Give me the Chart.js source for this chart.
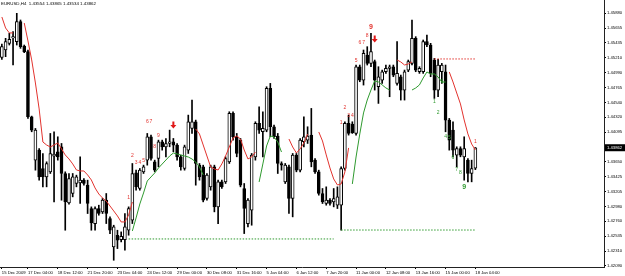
<!DOCTYPE html>
<html>
<head>
<meta charset="utf-8">
<script src="https://cdn.jsdelivr.net/npm/chart.js@4.4.1/dist/chart.umd.min.js"></script>
<style>
  html, body { margin: 0; padding: 0; background: #fff; }
  canvas { display: block; }
</style>
</head>
<body>
<canvas id="grafico" width="625" height="276"></canvas>
<script>
  // Símbolo e barras H4 (índice 0 = primeira barra visível)
  const symbol = 'EURUSD,H4';

  const openPrices = [
    1.45216, 1.45326, 1.45426, 1.45506, 1.45451, 1.45751, 1.45386, 1.45301, 1.44326, 1.43676,
    1.43826, 1.43551, 1.43426, 1.43501, 1.43736, 1.43801, 1.43876, 1.43476, 1.43036, 1.43176,
    1.43326, 1.43336, 1.43376, 1.43301, 1.42951, 1.42726, 1.42951, 1.42901, 1.43076, 1.42801,
    1.42376, 1.42551, 1.42486, 1.42486, 1.42626, 1.42776, 1.43486, 1.43251, 1.43501, 1.43676,
    1.44026, 1.43651, 1.43701, 1.43951, 1.43876, 1.43926, 1.43951, 1.43901, 1.43726, 1.43551,
    1.43826, 1.44151, 1.44251, 1.43601, 1.43576, 1.43101, 1.43276, 1.43576, 1.42976, 1.43351,
    1.43351, 1.43651, 1.44376, 1.44026, 1.43976, 1.43251, 1.42726, 1.42926, 1.43726, 1.44226,
    1.44101, 1.44126, 1.44751, 1.44176, 1.44036, 1.43626, 1.43351, 1.43576, 1.43101, 1.43751,
    1.43526, 1.43951, 1.43976, 1.44051, 1.43676, 1.43501, 1.43176, 1.43026, 1.43076, 1.43051,
    1.43001, 1.43001, 1.43551, 1.44226, 1.44216, 1.44076, 1.45076, 1.44876, 1.45251, 1.45126,
    1.45151, 1.44776, 1.44876, 1.45001, 1.45051, 1.45076, 1.44826, 1.44926, 1.44726, 1.45026,
    1.45126, 1.45501, 1.45001, 1.45001, 1.45451, 1.45401, 1.45176, 1.44726, 1.45001, 1.45001,
    1.44276, 1.44126, 1.43751, 1.43851, 1.43726, 1.43676, 1.43476, 1.43554
  ];
  const highPrices = [
    1.45416, 1.45501, 1.45576, 1.45601, 1.45876, 1.45776, 1.45401, 1.45326, 1.44336, 1.44151,
    1.43851, 1.43776, 1.43651, 1.44076, 1.44101, 1.44026, 1.43926, 1.43501, 1.43476, 1.43476,
    1.43451, 1.43726, 1.43401, 1.43376, 1.42976, 1.42976, 1.43001, 1.43101, 1.43176, 1.42826,
    1.42701, 1.42626, 1.42601, 1.42876, 1.42976, 1.43626, 1.43526, 1.43551, 1.43601, 1.44076,
    1.44051, 1.43676, 1.43976, 1.43976, 1.44001, 1.44126, 1.44001, 1.43926, 1.43751, 1.43901,
    1.44351, 1.44576, 1.44276, 1.43626, 1.43601, 1.43476, 1.43601, 1.43601, 1.43376, 1.43376,
    1.43726, 1.44401, 1.44401, 1.44076, 1.44001, 1.43326, 1.43101, 1.43776, 1.44251, 1.44476,
    1.44401, 1.44776, 1.44826, 1.44201, 1.44076, 1.43651, 1.43626, 1.43601, 1.43776, 1.43776,
    1.44001, 1.44326, 1.44176, 1.44451, 1.43701, 1.43526, 1.43251, 1.43276, 1.43101, 1.43251,
    1.43276, 1.43576, 1.44251, 1.44351, 1.44251, 1.45101, 1.45101, 1.45326, 1.45376, 1.45576,
    1.45176, 1.45076, 1.45026, 1.45101, 1.45101, 1.45101, 1.45451, 1.44951, 1.45026, 1.45176,
    1.45776, 1.45526, 1.45076, 1.45476, 1.45551, 1.45426, 1.45201, 1.45186, 1.45126, 1.45101,
    1.44301, 1.44251, 1.43876, 1.43876, 1.44026, 1.43701, 1.43676, 1.43865
  ];
  const lowPrices = [
    1.45186, 1.45226, 1.45401, 1.45101, 1.45401, 1.45351, 1.45286, 1.44301, 1.44101, 1.43526,
    1.43376, 1.43276, 1.43276, 1.43476, 1.43051, 1.43676, 1.43076, 1.42626, 1.43016, 1.43126,
    1.43276, 1.43026, 1.43301, 1.42876, 1.42626, 1.42626, 1.42851, 1.42876, 1.42726, 1.42576,
    1.42176, 1.42351, 1.42451, 1.42326, 1.42551, 1.42726, 1.43226, 1.43226, 1.43476, 1.43601,
    1.43676, 1.43501, 1.43576, 1.43826, 1.43726, 1.43876, 1.43801, 1.43676, 1.43526, 1.43526,
    1.43776, 1.44076, 1.43301, 1.43376, 1.43051, 1.43076, 1.43226, 1.42901, 1.42726, 1.43251,
    1.43326, 1.43626, 1.43976, 1.43726, 1.43276, 1.42576, 1.42676, 1.42701, 1.43676, 1.44076,
    1.43726, 1.44101, 1.44026, 1.44001, 1.43476, 1.43526, 1.43326, 1.42876, 1.42826, 1.43501,
    1.43501, 1.43876, 1.43926, 1.43576, 1.43476, 1.43151, 1.43026, 1.43001, 1.43001, 1.42976,
    1.42951, 1.42626, 1.43526, 1.44051, 1.44076, 1.44051, 1.44851, 1.44801, 1.45101, 1.45076,
    1.44726, 1.44526, 1.44826, 1.44976, 1.44626, 1.44926, 1.44801, 1.44576, 1.44576, 1.45001,
    1.45101, 1.45001, 1.44976, 1.44976, 1.45376, 1.44926, 1.44601, 1.44626, 1.44826, 1.44101,
    1.43826, 1.43726, 1.43576, 1.43726, 1.43376, 1.43351, 1.43351, 1.43534
  ];
  const closePrices = [
    1.45376, 1.45451, 1.45486, 1.45526, 1.45751, 1.45376, 1.45301, 1.44326, 1.44126, 1.44126,
    1.43426, 1.43426, 1.43626, 1.43776, 1.43766, 1.43726, 1.43476, 1.43051, 1.43401, 1.43426,
    1.43426, 1.43376, 1.43326, 1.43026, 1.42736, 1.42951, 1.42876, 1.43076, 1.42876, 1.42626,
    1.42676, 1.42476, 1.42536, 1.42676, 1.42951, 1.43476, 1.43276, 1.43526, 1.43576, 1.44026,
    1.43701, 1.43526, 1.43951, 1.43876, 1.43926, 1.43951, 1.43901, 1.43726, 1.43576, 1.43876,
    1.44251, 1.44251, 1.43626, 1.43426, 1.43076, 1.43451, 1.43576, 1.42976, 1.43351, 1.43276,
    1.43701, 1.44376, 1.44026, 1.43776, 1.43301, 1.42951, 1.43076, 1.43751, 1.44226, 1.44126,
    1.44151, 1.44751, 1.44176, 1.44026, 1.43626, 1.43601, 1.43601, 1.43101, 1.43751, 1.43526,
    1.43976, 1.44026, 1.44036, 1.43651, 1.43501, 1.43176, 1.43051, 1.43076, 1.43026, 1.43101,
    1.43126, 1.43551, 1.44226, 1.44076, 1.44086, 1.45076, 1.44876, 1.45276, 1.45126, 1.45301,
    1.44876, 1.44926, 1.45001, 1.45051, 1.45076, 1.44951, 1.44976, 1.44726, 1.45001, 1.45151,
    1.45501, 1.45026, 1.45051, 1.45451, 1.45401, 1.44976, 1.44726, 1.45101, 1.45101, 1.44276,
    1.43976, 1.43826, 1.43851, 1.43751, 1.43851, 1.43476, 1.43551, 1.43862
  ];

  // Rótulos do eixo de tempo (barra onde cada um aparece)
  const tickBars = [0, 7, 15, 23, 31, 39, 47, 55, 63, 71, 79, 87, 95, 103, 111, 119, 127];
  const tickLabels = [
    '15 Dec 2009', '17 Dec 04:00', '18 Dec 12:00', '21 Dec 20:00', '23 Dec 04:00',
    '24 Dec 12:00', '29 Dec 00:00', '30 Dec 08:00', '31 Dec 16:00', '5 Jan 04:00',
    '6 Jan 12:00', '7 Jan 20:00', '11 Jan 00:00', '12 Jan 08:00', '13 Jan 16:00',
    '15 Jan 00:00', '18 Jan 04:00'
  ];

  // Escala de preços à direita
  const priceTicks = [
    1.45880, 1.45655, 1.45435, 1.45210, 1.44990, 1.44765, 1.44540, 1.44320, 1.44095,
    1.43650, 1.43425, 1.43205, 1.42980, 1.42760, 1.42535, 1.42310, 1.42090
  ];

  // Linha de tendência em trechos: [barra inicial, valores]
  const redSegments = [
    [0, [1.45821, 1.45656, 1.45582, 1.45582]],
    [6, [1.45731, 1.45462, 1.45177, 1.44832, 1.44443, 1.43948, 1.43903, 1.43873, 1.43903, 1.43933,
         1.43844, 1.43754, 1.43694, 1.43619, 1.43529, 1.43514, 1.43514, 1.43454, 1.43379, 1.43259,
         1.43169, 1.43109, 1.43064, 1.42989, 1.42915, 1.42840, 1.42750, 1.42750, 1.42855, 1.43049]],
    [52, [1.44143, 1.44068, 1.43903, 1.43738, 1.43574, 1.43544, 1.43529, 1.43619, 1.43738, 1.43873,
          1.44008, 1.44038, 1.43993, 1.43828, 1.43694, 1.43723, 1.43798]],
    [77, [1.43993, 1.43873, 1.43783, 1.43844, 1.43933, 1.44068]],
    [85, [1.44098, 1.43963, 1.43754, 1.43559, 1.43394, 1.43304, 1.43319, 1.43499, 1.43859]],
    [106, [1.45177, 1.45147, 1.45102, 1.45117, 1.45147]],
    [120, [1.44997, 1.44847, 1.44682, 1.44518, 1.44278, 1.44068, 1.43918, 1.43828]]
  ];
  const greenSegments = [
    [35, [1.42615, 1.42810, 1.43019, 1.43184, 1.43364, 1.43424, 1.43484, 1.43558, 1.43618, 1.43678,
          1.43738, 1.43783, 1.43768, 1.43753, 1.43738, 1.43723, 1.43693, 1.43648, 1.43574, 1.43454]],
    [69, [1.43349, 1.43619, 1.43888, 1.44038, 1.44023, 1.43948, 1.43798]],
    [94, [1.43319, 1.43723, 1.44068, 1.44383, 1.44577, 1.44727, 1.44863, 1.44848, 1.44803, 1.44758, 1.44727]],
    [110, [1.44727, 1.44757, 1.44803, 1.44907, 1.44997, 1.44967, 1.44967, 1.44922, 1.44847, 1.44847]]
  ];

  // Níveis pontilhados: [barra inicial, barra final, preço]
  const supportLevels = [[34, 89, 1.42495], [91, 127, 1.42629]];
  const resistanceLevels = [[116, 127, 1.45192]];

  // Contagens: [barra, preço, texto]
  const sellCounts = [
    [34, 1.43109, '1'], [35, 1.43738, '2'], [36, 1.43633, '3'], [37, 1.43633, '4'], [38, 1.43663, '5'],
    [39, 1.44248, '6'], [40, 1.44248, '7'], [41, 1.43873, '8'], [42, 1.44038, '9'],
    [91, 1.44233, '1'], [92, 1.44457, '2'], [93, 1.44337, '3'], [94, 1.44337, '4'], [95, 1.45162, '5'],
    [96, 1.45431, '6'], [97, 1.45431, '7'], [98, 1.45536, '8'], [99, 1.45671, '9'],
    [127, 1.43948, '1']
  ];
  const buyCounts = [
    [116, 1.44547, '1'], [117, 1.44382, '2'], [118, 1.44847, '3'], [119, 1.44023, '4'], [120, 1.44008, '5'],
    [121, 1.43708, '6'], [122, 1.43528, '7'], [123, 1.43483, '8'], [124, 1.43274, '9']
  ];
  const perfectBars = [99, 124];
  const sellArrows = [[46, 1.44203], [100, 1.45491]];

  const RED = '#e2332e';
  const GREEN = '#2f9a2f';

  function montarLinha(segmentos) {
    const pontos = [];
    segmentos.forEach(([inicio, valores]) => {
      valores.forEach((v, k) => pontos.push({ x: inicio + k, y: v }));
      pontos.push({ x: inicio + valores.length - 0.5, y: null });
    });
    return pontos;
  }

  function montarNiveis(niveis) {
    const pontos = [];
    niveis.forEach(([de, ate, preco]) => {
      pontos.push({ x: de, y: preco }, { x: ate, y: preco }, { x: ate + 0.2, y: null });
    });
    return pontos;
  }

  // Textos, setas, título e etiqueta do preço atual
  const marcasPlugin = {
    id: 'marcas',
    afterDatasetsDraw(chart) {
      const { ctx, scales: { x, y } } = chart;
      ctx.save();
      ctx.textAlign = 'center';
      ctx.textBaseline = 'middle';

      function escrever(lista, cor) {
        lista.forEach(([barra, preco, txt]) => {
          const forte = perfectBars.includes(barra) && txt === '9';
          ctx.font = forte ? 'bold 7px "Liberation Sans"' : '5px "Liberation Sans"';
          ctx.fillStyle = cor;
          ctx.fillText(txt, x.getPixelForValue(barra), y.getPixelForValue(preco));
        });
      }
      escrever(sellCounts, RED);
      escrever(buyCounts, GREEN);

      ctx.fillStyle = '#e01818';
      sellArrows.forEach(([barra, preco]) => {
        const px = x.getPixelForValue(barra);
        const py = y.getPixelForValue(preco);
        ctx.beginPath();
        ctx.moveTo(px - 1, py - 3.5);
        ctx.lineTo(px + 1, py - 3.5);
        ctx.lineTo(px + 1, py);
        ctx.lineTo(px + 3, py);
        ctx.lineTo(px, py + 3.5);
        ctx.lineTo(px - 3, py);
        ctx.lineTo(px - 1, py);
        ctx.closePath();
        ctx.fill();
      });
      ctx.restore();
    },
    afterDraw(chart) {
      const { ctx, chartArea, scales: { y } } = chart;
      const n = closePrices.length - 1;
      ctx.save();
      ctx.font = '4.4px "Liberation Sans"';
      ctx.textBaseline = 'middle';
      ctx.textAlign = 'left';
      ctx.fillStyle = '#000';
      const titulo = `${symbol}  ${openPrices[n].toFixed(5)} ${highPrices[n].toFixed(5)} ${lowPrices[n].toFixed(5)} ${closePrices[n].toFixed(5)}`;
      ctx.fillText(titulo, 1, 3.5);

      const yAtual = y.getPixelForValue(closePrices[n]);
      ctx.fillRect(chartArea.right + 1, yAtual - 3.5, 20, 7);
      ctx.fillStyle = '#fff';
      ctx.font = '4.2px "Liberation Sans"';
      ctx.fillText(closePrices[n].toFixed(5), chartArea.right + 3, yAtual);
      ctx.restore();
    }
  };

  Chart.defaults.font.family = '"Liberation Sans", Arial, sans-serif';
  Chart.defaults.font.size = 4.2;
  Chart.defaults.color = '#000';

  const corpos = openPrices.map((o, i) => ({ x: i, y: [o, closePrices[i]] }));
  const pavios = lowPrices.map((l, i) => ({ x: i, y: [l, highPrices[i]] }));
  const coresCorpo = openPrices.map((o, i) => (closePrices[i] >= o ? '#ffffff' : '#000000'));

  new Chart(document.getElementById('grafico'), {
    type: 'bar',
    data: {
      datasets: [
        {
          label: 'pavio',
          data: pavios,
          backgroundColor: '#000',
          barThickness: 1,
          grouped: false,
          order: 4
        },
        {
          label: 'corpo',
          data: corpos,
          backgroundColor: coresCorpo,
          borderColor: '#000',
          borderWidth: 1,
          borderSkipped: false,
          barThickness: 3,
          minBarLength: 1,
          grouped: false,
          order: 3
        },
        {
          type: 'line',
          label: 'vermelha',
          data: montarLinha(redSegments),
          borderColor: RED,
          borderWidth: 1,
          pointRadius: 0,
          spanGaps: false,
          order: 1
        },
        {
          type: 'line',
          label: 'verde',
          data: montarLinha(greenSegments),
          borderColor: GREEN,
          borderWidth: 1,
          pointRadius: 0,
          spanGaps: false,
          order: 1
        },
        {
          type: 'line',
          label: 'suporte',
          data: montarNiveis(supportLevels),
          borderColor: GREEN,
          borderWidth: 1,
          borderDash: [1.5, 1.5],
          pointRadius: 0,
          spanGaps: false,
          order: 2
        },
        {
          type: 'line',
          label: 'resistencia',
          data: montarNiveis(resistanceLevels),
          borderColor: RED,
          borderWidth: 1,
          borderDash: [1.5, 1.5],
          pointRadius: 0,
          spanGaps: false,
          order: 2
        }
      ]
    },
    options: {
      responsive: false,
      animation: false,
      events: [],
      layout: { padding: 0 },
      plugins: {
        legend: { display: false },
        tooltip: { enabled: false }
      },
      scales: {
        x: {
          type: 'linear',
          min: -0.5,
          max: 161.5,
          offset: false,
          grid: { display: true, drawOnChartArea: false, drawTicks: true, tickLength: 2, color: '#000', offset: false },
          border: { display: true, color: '#222', width: 1 },
          ticks: {
            autoSkip: false,
            maxRotation: 0,
            align: 'start',
            padding: 1,
            callback: v => {
              const k = tickBars.indexOf(v);
              return k >= 0 ? tickLabels[k] : '';
            }
          },
          afterBuildTicks: axis => {
            axis.ticks = tickBars.map(v => ({ value: v }));
          },
          afterFit: axis => {
            axis.height = 9;
            axis.paddingLeft = 0;
            axis.paddingRight = 0;
          }
        },
        y: {
          type: 'linear',
          position: 'right',
          min: 1.42075,
          max: 1.460755,
          beginAtZero: false,
          grid: { display: true, drawOnChartArea: false, drawTicks: true, tickLength: 2, color: '#000' },
          border: { display: true, color: '#222', width: 1 },
          ticks: {
            padding: 1,
            callback: v => v.toFixed(5)
          },
          afterBuildTicks: axis => {
            axis.ticks = priceTicks.map(v => ({ value: v }));
          },
          afterFit: axis => {
            axis.width = 21;
            axis.paddingTop = 0;
            axis.paddingBottom = 0;
          }
        }
      }
    },
    plugins: [marcasPlugin]
  });
</script>
</body>
</html>
